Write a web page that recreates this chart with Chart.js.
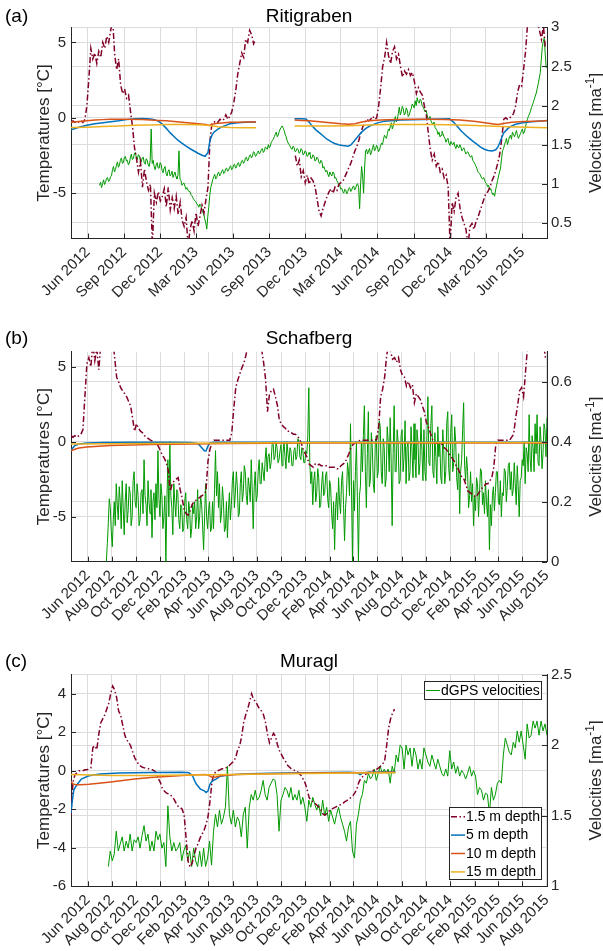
<!DOCTYPE html>
<html>
<head>
<meta charset="utf-8">
<script src="https://cdn.jsdelivr.net/npm/chart.js@4.4.1/dist/chart.umd.min.js"></script>
<style>
html,body{margin:0;padding:0;background:#fff;}
body{position:relative;width:603px;height:951px;overflow:hidden;}
canvas{position:absolute;left:0;display:block;}
</style>
</head>
<body>
<canvas id="ca" width="603" height="320" style="top:0px"></canvas>
<canvas id="cb" width="603" height="320" style="top:320px"></canvas>
<canvas id="cc" width="603" height="311" style="top:640px"></canvas>
<script>
// ---------- tick labels / axis ranges ----------
const START = '2012-04-20', END = '2015-08-02';
const A_X_TICKS = ['2012-06-01','2012-09-01','2012-12-01','2013-03-01','2013-06-01','2013-09-01','2013-12-01','2014-03-01','2014-06-01','2014-09-01','2014-12-01','2015-03-01','2015-06-01'];
const BC_X_TICKS = ['2012-06-01','2012-08-01','2012-10-01','2012-12-01','2013-02-01','2013-04-01','2013-06-01','2013-08-01','2013-10-01','2013-12-01','2014-02-01','2014-04-01','2014-06-01','2014-08-01','2014-10-01','2014-12-01','2015-02-01','2015-04-01','2015-06-01','2015-08-01'];
const A_LEFT_TICKS = [-5,0,5], A_RIGHT_TICKS = [0.5,1,1.5,2,2.5,3];
const B_LEFT_TICKS = [-5,0,5], B_RIGHT_TICKS = [0,0.2,0.4,0.6];
const C_LEFT_TICKS = [-6,-4,-2,0,2,4], C_RIGHT_TICKS = [1,1.5,2,2.5];
const A_LEFT_RANGE = [-8,6], A_RIGHT_RANGE = [0.3,3];
const B_LEFT_RANGE = [-8,6], B_RIGHT_RANGE = [0,0.7];
const C_LEFT_RANGE = [-6,5], C_RIGHT_RANGE = [1,2.5];
const SERIES_LABELS = ['1.5 m depth','5 m depth','10 m depth','15 m depth','dGPS velocities'];

// ---------- (a) Ritigraben : days after START ----------
// 1.5 m depth, every 5 days from day 0 (null = no data)
const A_T1 = [-0.3,-0.2,-0.3,-0.2,-0.3,-0.2,-0.3,-0.1,0.8,2.6,
4.6,3.9,4.3,3.6,4.4,4.0,5.0,4.6,5.4,5.0,
5.8,6.5,4.2,3.2,3.9,2.2,1.6,1.9,1.3,1.5,
0.4,-0.6,-2.0,-2.7,-3.6,-2.9,-4.6,-3.4,-4.2,-4.8,
-4.4,-8.5,-5.0,-5.6,-4.9,-5.5,-5.2,-4.7,-5.9,-4.6,
-6.1,-5.3,-6.0,-5.2,-6.4,-5.6,-6.8,-7.2,-6.6,-8.5,
-7.4,-6.8,-7.5,-6.3,-7.2,-6.5,-5.8,-6.3,-5.4,-4.6,
-1.5,-0.4,-0.3,-0.2,-0.3,-0.1,-0.2,-0.1,0.2,-0.1,
0.1,0.4,1.0,1.8,2.9,3.6,4.3,4.0,5.2,5.0,
5.8,5.5,4.9,5.2,
null,null,null,null,null,null,null,null,null,null,null,null,null,null,null,null,null,null,null,
-2.5,-3.2,-2.8,-3.9,-3.5,-4.3,-3.8,-4.4,-4.0,-4.2,
-4.6,-5.4,-6.2,-6.5,-6.0,-5.6,-5.2,-4.9,-4.7,-5.0,
-4.6,-4.8,-4.4,-4.3,-4.2,-3.9,-3.6,-3.3,-3.0,-2.6,
-2.2,-1.9,-1.5,-1.0,-0.6,-0.3,-0.1,-0.2,-0.1,0.1,
-0.1,0.0,0.8,2.0,3.4,4.0,5.0,4.1,3.6,4.4,
4.7,3.9,4.2,3.4,2.7,3.1,2.9,3.2,2.8,3.0,
2.4,1.6,2.0,1.7,1.5,0.8,0.2,-1.0,-2.1,-2.8,
-2.4,-3.2,-2.9,-3.6,-3.4,-4.0,-3.8,-4.6,-8.5,-5.6,
-6.2,-5.3,-5.0,-6.0,-6.6,-7.0,-7.4,-8.5,-7.2,-7.0,
-7.4,-6.9,-6.6,-6.2,-5.8,-5.4,-5.0,-4.9,-4.6,-4.2,
-3.9,-3.5,-3.0,-2.4,-1.4,-0.1,0.0,-0.1,0.0,0.1,
0.3,0.8,1.7,2.2,2.1,3.2,4.4,6.2,6.8,7.0,
6.6,6.9,6.3,5.8,5.2,6.1,4.6];
const A_T5_DAYS = [0,20,40,60,80,100,120,140,160,180,200,210,220,230,240,250,260,270,280,290,300,310,320,330,338,345,350,355,360,370,380,390,400,420,440,466,515,563,580,592,600,606,616,626,636,645,655,664,674,684,698,705,713,722,732,742,752,770,790,830,887,954,964,974,983,993,1002,1012,1022,1031,1041,1051,1061,1070,1075,1080,1085,1090,1100,1109,1120,1138,1160,1177,1199];
const A_T5 = [-0.8,-0.62,-0.5,-0.4,-0.32,-0.26,-0.2,-0.12,-0.07,-0.05,-0.08,-0.12,-0.22,-0.42,-0.7,-1.0,-1.25,-1.5,-1.7,-1.88,-2.05,-2.2,-2.35,-2.48,-2.55,-2.3,-1.5,-1.15,-0.95,-0.75,-0.6,-0.5,-0.4,-0.33,-0.3,-0.27,null,-0.07,-0.06,-0.08,-0.3,-0.5,-0.78,-1.0,-1.22,-1.42,-1.58,-1.7,-1.78,-1.83,-1.88,-1.8,-1.55,-1.25,-0.95,-0.72,-0.55,-0.35,-0.22,-0.15,-0.11,-0.07,-0.3,-0.6,-0.88,-1.12,-1.33,-1.55,-1.75,-1.93,-2.08,-2.16,-2.2,-2.12,-1.95,-1.65,-1.3,-1.0,-0.72,-0.55,-0.43,-0.33,-0.26,-0.22,-0.18];
const A_T10_DAYS = [0,20,40,60,80,100,140,180,200,220,240,260,280,300,320,340,348,355,365,380,400,420,440,466,515,563,580,600,620,640,660,680,700,715,730,750,780,820,860,900,940,980,1020,1060,1075,1090,1110,1140,1170,1199];
const A_T10 = [-0.3,-0.25,-0.2,-0.15,-0.12,-0.1,-0.1,-0.12,-0.15,-0.18,-0.2,-0.25,-0.3,-0.35,-0.4,-0.45,-0.5,-0.42,-0.38,-0.35,-0.3,-0.3,-0.28,-0.27,null,-0.15,-0.17,-0.2,-0.25,-0.3,-0.35,-0.4,-0.42,-0.4,-0.3,-0.2,-0.15,-0.12,-0.1,-0.1,-0.12,-0.15,-0.25,-0.4,-0.45,-0.38,-0.3,-0.25,-0.22,-0.2];
const A_T15_DAYS = [0,40,80,120,160,200,240,280,320,345,370,400,440,466,515,563,600,650,700,750,800,850,900,950,1000,1050,1100,1150,1199];
const A_T15 = [-0.65,-0.62,-0.58,-0.55,-0.5,-0.47,-0.45,-0.45,-0.46,-0.5,-0.6,-0.65,-0.66,-0.66,null,-0.55,-0.55,-0.55,-0.52,-0.48,-0.45,-0.44,-0.44,-0.46,-0.5,-0.55,-0.6,-0.63,-0.66];
// dGPS velocities, every 2.5 days from day 72
const A_GPS = [0.98,1.02,0.95,1.0,1.05,0.99,1.02,1.07,1.08,1.03,1.04,1.09,1.10,1.18,1.22,1.15,1.18,1.24,1.28,1.21,
1.24,1.3,1.33,1.26,1.27,1.34,1.35,1.29,1.30,1.24,1.26,1.33,1.38,1.31,1.32,1.38,1.40,1.34,1.31,1.37,
1.36,1.3,1.28,1.33,1.34,1.27,1.25,1.32,1.30,1.24,1.22,1.3,1.70,1.26,1.30,1.22,1.18,1.24,1.27,1.2,
1.20,1.27,1.25,1.17,1.14,1.2,1.22,1.13,1.10,1.16,1.18,1.1,1.12,1.16,1.08,1.12,1.15,1.09,1.06,1.11,
1.42,1.06,1.04,0.98,1.00,1.01,0.97,0.93,0.95,0.92,0.90,0.9,0.86,0.85,0.82,0.8,0.78,0.77,0.74,0.73,
0.70,0.74,0.72,0.67,0.64,0.6,0.55,0.5,0.42,0.58,0.70,0.85,0.95,1.0,1.05,1.09,1.12,1.06,1.08,1.13,
1.15,1.1,1.12,1.16,1.18,1.13,1.14,1.19,1.20,1.16,1.17,1.21,1.23,1.18,1.19,1.24,1.25,1.2,1.21,1.26,
1.27,1.22,1.24,1.29,1.30,1.26,1.28,1.33,1.34,1.29,1.31,1.36,1.37,1.33,1.35,1.41,1.40,1.35,1.36,1.4,
1.42,1.38,1.40,1.44,1.45,1.4,1.42,1.47,1.46,1.44,1.50,1.46,1.48,1.53,1.55,1.57,1.60,1.63,1.66,1.6,
1.62,1.67,1.70,1.72,1.74,1.71,1.68,1.63,1.60,1.55,1.52,1.5,1.48,1.45,1.44,1.48,1.46,1.41,1.42,1.45,
1.44,1.39,1.40,1.45,1.43,1.37,1.38,1.42,1.41,1.35,1.36,1.4,1.38,1.32,1.33,1.37,1.35,1.29,1.30,1.34,
1.32,1.27,1.26,1.3,1.28,1.2,1.22,1.18,1.15,1.17,1.12,1.09,1.15,1.12,1.10,1.15,1.14,1.07,1.08,1.04,
1.02,0.97,0.98,0.93,0.94,0.9,0.88,0.93,0.92,0.87,0.90,0.94,0.95,0.9,0.92,0.96,0.97,0.92,0.94,0.99,
1.00,0.95,0.68,1.0,1.22,1.1,0.88,1.2,1.42,1.44,1.38,1.42,1.45,1.37,1.40,1.46,1.50,1.42,1.44,1.49,
1.47,1.41,1.43,1.48,1.52,1.5,1.56,1.62,1.60,1.58,1.64,1.7,1.68,1.74,1.78,1.7,1.74,1.8,1.86,1.79,
1.82,1.9,1.98,1.88,1.92,1.99,1.96,1.88,1.90,1.97,1.94,1.86,1.88,1.93,1.96,2.02,2.00,1.97,2.06,2.0,
2.10,2.05,2.03,2.08,2.06,2.0,1.98,1.95,1.92,1.94,1.88,1.82,1.84,1.86,1.80,1.77,1.76,1.79,1.72,1.7,
1.68,1.63,1.66,1.6,1.62,1.67,1.64,1.6,1.58,1.53,1.56,1.58,1.52,1.49,1.54,1.51,1.50,1.53,1.48,1.45,
1.50,1.47,1.46,1.5,1.47,1.42,1.44,1.46,1.42,1.38,1.40,1.41,1.38,1.35,1.34,1.36,1.30,1.28,1.26,1.23,
1.20,1.16,1.14,1.13,1.10,1.07,1.06,1.08,1.04,1.01,1.00,0.96,0.98,0.92,0.94,0.9,0.86,0.88,0.84,0.92,
0.98,1.04,1.10,1.15,1.20,1.32,1.42,1.45,1.50,1.54,1.58,1.5,1.55,1.6,1.62,1.57,1.66,1.63,1.60,1.64,
1.68,1.62,1.58,1.61,1.64,1.67,1.70,1.64,1.66,1.72,1.78,1.82,1.86,1.89,1.92,1.97,2.00,2.04,2.08,2.12,
2.16,2.22,2.28,2.35,2.42,2.58,2.74,2.82,2.86,2.66,2.48];

// ---------- (b) Schafberg ----------
const B_T1 = [0.4,0.3,0.4,0.3,0.4,0.5,0.8,3.0,5.2,5.6,
5.0,6.5,5.4,6.2,4.8,6.5,7.0,7.5,7.6,7.4,
7.2,6.8,5.6,4.3,4.0,3.6,3.4,3.2,3.0,2.7,
2.4,1.6,0.7,1.2,0.9,0.7,0.6,0.4,0.3,0.2,
0.1,0.05,0.0,-0.1,-0.3,-0.6,-0.9,-1.1,-1.4,-1.9,
-3.3,-2.8,-2.6,-2.5,-2.4,-3.2,-3.8,-4.5,-4.8,-4.9,
-4.6,-4.2,-4.0,-3.9,-3.8,-3.7,-3.6,-3.5,-3.3,-1.3,
-0.5,-0.1,0.1,0.1,0.1,0.1,0.1,0.1,0.1,0.1,
0.1,0.6,2.2,3.6,4.1,4.5,4.9,5.2,5.7,6.3,
7.0,7.5,7.2,7.6,6.9,6.5,6.2,5.3,4.2,2.0,
3.2,3.4,3.5,3.0,2.4,1.4,1.2,1.0,0.9,0.7,
0.7,0.6,0.5,0.5,0.4,0.2,-0.1,-0.5,-0.8,-1.05,
-1.5,-1.6,-1.7,-1.5,-1.6,-1.5,-1.6,-1.6,-1.6,-1.6,
-1.7,-1.7,-1.7,-1.7,-1.8,-1.8,-1.6,-1.5,-1.4,-1.1,
-0.8,-0.4,-0.2,-0.1,0.0,0.05,0.1,0.1,0.1,0.1,
0.1,0.1,0.1,0.1,0.15,1.0,3.0,3.5,4.3,5.7,
6.5,6.0,5.5,5.6,5.3,5.6,4.8,4.4,4.3,3.7,
4.0,3.6,3.8,2.6,3.2,3.0,2.8,2.4,2.0,1.3,
1.0,0.6,0.2,-0.1,-0.1,-0.1,-0.1,-0.2,-0.4,-0.5,
-0.7,-0.9,-1.1,-1.3,-1.6,-1.8,-2.1,-2.4,-2.5,-2.9,
-3.3,-3.4,-3.5,-3.6,-3.7,-3.5,-3.3,-3.1,-3.0,-2.8,
-2.8,-2.6,-2.4,-1.7,-0.2,0.1,0.1,0.1,0.1,0.1,
0.1,0.1,0.3,0.5,1.6,2.4,3.4,3.6,3.0,4.7,
6.3,7.2,7.5,7.8,7.6,7.4,7.3,7.0,6.6,5.6];
const B_T5_DAYS = [0,5,10,20,40,80,150,250,300,316,321,326,331,336,340,345,350,360,500,800,1199];
const B_T5 = [-0.6,-0.4,-0.25,-0.15,-0.08,-0.05,-0.04,-0.04,-0.06,-0.1,-0.15,-0.3,-0.45,-0.6,-0.62,-0.3,-0.08,-0.04,-0.03,-0.03,-0.03];
const B_T10_DAYS = [0,10,20,40,70,100,150,200,300,400,500,600,800,1000,1199];
const B_T10 = [-0.6,-0.5,-0.42,-0.35,-0.3,-0.26,-0.22,-0.19,-0.15,-0.12,-0.1,-0.09,-0.08,-0.08,-0.08];
const B_T15_DAYS = [0,30,100,200,300,400,600,800,1000,1199];
const B_T15 = [-0.15,-0.15,-0.13,-0.12,-0.1,-0.08,-0.06,-0.05,-0.05,-0.05];
// dGPS velocities, every 2.5 days from day 89
const B_GPS = [0.0,0.06,0.13,0.21,0.18,0.1,0.05,0.14,0.2,0.12,0.26,0.19,0.14,0.25,0.2,0.11,0.27,0.18,0.09,0.2,
0.26,0.13,0.17,0.25,0.23,0.12,0.15,0.27,0.30,0.2,0.18,0.26,0.22,0.12,0.14,0.23,0.24,0.16,0.34,0.22,
0.19,0.12,0.27,0.2,0.16,0.24,0.08,0.2,0.23,0.14,0.26,0.18,0.37,0.21,0.15,0.26,0.22,0.11,0.15,0.22,
0.0,0.2,0.34,0.15,0.40,0.22,0.18,0.09,0.26,0.2,0.15,0.24,0.23,0.14,0.11,0.19,0.18,0.1,0.11,0.2,
0.23,0.14,0.11,0.2,0.17,0.08,0.11,0.19,0.16,0.2,0.11,0.15,0.24,0.11,0.15,0.22,0.19,0.12,0.04,0.15,
0.26,0.15,0.11,0.17,0.20,0.1,0.11,0.2,0.11,0.24,0.37,0.22,0.30,0.18,0.26,0.13,0.16,0.25,0.20,0.1,
0.11,0.2,0.08,0.17,0.23,0.14,0.19,0.27,0.30,0.18,0.23,0.3,0.25,0.15,0.16,0.26,0.30,0.2,0.23,0.32,
0.30,0.22,0.19,0.28,0.25,0.2,0.34,0.24,0.11,0.25,0.30,0.2,0.22,0.3,0.34,0.26,0.26,0.33,0.30,0.27,
0.34,0.38,0.30,0.35,0.36,0.31,0.33,0.39,0.40,0.34,0.35,0.4,0.38,0.33,0.34,0.37,0.39,0.32,0.36,0.4,
0.35,0.31,0.40,0.36,0.33,0.38,0.37,0.32,0.32,0.37,0.38,0.34,0.35,0.41,0.40,0.35,0.34,0.38,0.37,0.33,
0.33,0.37,0.36,0.42,0.58,0.33,0.26,0.3,0.19,0.27,0.30,0.2,0.23,0.31,0.28,0.18,0.19,0.26,0.30,0.22,
0.23,0.29,0.30,0.21,0.18,0.27,0.25,0.16,0.11,0.2,0.04,0.18,0.23,0.14,0.28,0.2,0.16,0.27,0.30,0.19,
0.07,0.18,0.23,0.33,0.30,0.22,0.46,0.25,0.0,0.27,0.17,0.3,0.40,0.2,0.0,0.22,0.25,0.4,0.30,0.42,
0.52,0.3,0.18,0.36,0.50,0.25,0.27,0.43,0.38,0.26,0.23,0.4,0.42,0.28,0.30,0.47,0.45,0.3,0.26,0.41,
0.38,0.25,0.28,0.45,0.40,0.3,0.48,0.33,0.12,0.36,0.52,0.3,0.30,0.44,0.40,0.26,0.27,0.42,0.44,0.3,
0.35,0.47,0.26,0.38,0.40,0.27,0.30,0.45,0.37,0.28,0.46,0.34,0.28,0.44,0.40,0.29,0.33,0.48,0.37,0.27,
0.44,0.3,0.27,0.42,0.55,0.33,0.32,0.46,0.52,0.3,0.28,0.43,0.35,0.26,0.45,0.35,0.40,0.28,0.26,0.44,
0.37,0.26,0.30,0.46,0.50,0.31,0.27,0.43,0.49,0.3,0.33,0.45,0.40,0.28,0.24,0.36,0.16,0.3,0.34,0.44,
0.53,0.32,0.27,0.35,0.30,0.18,0.22,0.3,0.20,0.26,0.12,0.22,0.17,0.28,0.26,0.15,0.23,0.31,0.30,0.19,
0.23,0.16,0.27,0.2,0.15,0.24,0.04,0.19,0.12,0.22,0.25,0.17,0.23,0.3,0.30,0.2,0.19,0.27,0.15,0.23,
0.22,0.31,0.30,0.2,0.25,0.32,0.33,0.24,0.30,0.22,0.24,0.33,0.26,0.19,0.32,0.25,0.15,0.27,0.28,0.34,
0.32,0.4,0.26,0.38,0.36,0.3,0.49,0.34,0.30,0.42,0.38,0.3,0.46,0.36,0.49,0.33,0.32,0.45,0.40,0.31,
0.36,0.46,0.44,0.35,0.48];

// ---------- (c) Muragl ----------
const C_T1 = [-2.3,-0.6,-0.2,-0.1,0.0,0.0,0.0,0.05,0.05,0.1,
0.15,1.2,1.3,1.1,1.9,2.5,2.7,2.9,3.2,3.5,
4.0,4.4,4.2,3.8,3.1,2.9,2.4,1.9,1.6,1.5,
1.3,1.0,0.7,0.5,0.35,0.25,0.18,0.15,0.12,0.1,
0.08,0.05,0.0,-0.1,-0.4,-0.6,-0.9,-1.05,-1.15,-1.2,
-1.25,-1.35,-1.5,-1.7,-1.85,-1.9,-2.0,-2.3,-3.5,-4.7,
-5.0,-4.8,-4.4,-4.0,-3.8,-3.5,-3.3,-3.1,-2.8,-2.4,
-1.6,-0.6,-0.17,-0.05,0.0,0.05,0.1,0.1,0.15,0.2,
0.3,0.4,0.5,0.7,1.1,1.3,1.8,2.5,2.9,3.2,
3.6,4.0,3.7,3.6,3.4,3.2,3.1,2.9,2.5,1.9,
1.45,1.7,1.95,1.8,1.35,1.05,0.85,0.65,0.5,0.3,
0.2,0.1,0.05,0.0,-0.05,-0.15,-0.25,-0.45,-0.65,-1.0,
-1.4,-1.55,-1.6,-1.7,-1.8,-1.9,-2.05,-2.25,-2.3,-2.2,
-2.1,-2.0,-1.95,-1.9,-1.85,-1.8,-1.75,-1.7,-1.6,-1.55,
-1.45,-1.4,-1.3,-1.15,-0.95,-0.6,-0.4,-0.3,-0.2,-0.15,
-0.1,-0.05,0.0,0.05,0.08,0.15,0.25,0.35,0.5,1.3,
2.2,2.7,3.0,3.2];
const C_T5_DAYS = [0,3,7,12,16,26,45,74,120,200,280,297,302,307,311,316,326,336,340,345,350,355,365,374,403,450,500,600,700,720,728,735,750,817];
const C_T5 = [-2.2,-1.6,-1.0,-0.82,-0.7,-0.43,-0.26,-0.17,-0.12,-0.09,-0.08,-0.1,-0.18,-0.3,-0.5,-0.7,-0.95,-1.04,-1.13,-1.05,-0.7,-0.55,-0.43,-0.3,-0.2,-0.16,-0.13,-0.1,-0.08,-0.1,-0.2,-0.12,-0.08,-0.07];
const C_T10_DAYS = [0,5,12,25,45,70,100,130,160,200,250,300,340,348,356,365,380,420,500,600,700,817];
const C_T10 = [-0.55,-0.68,-0.72,-0.72,-0.7,-0.65,-0.58,-0.5,-0.43,-0.35,-0.28,-0.22,-0.19,-0.25,-0.35,-0.32,-0.25,-0.19,-0.15,-0.12,-0.1,-0.08];
const C_T15_DAYS = [0,50,100,200,300,400,500,600,700,817];
const C_T15 = [-0.2,-0.22,-0.25,-0.25,-0.22,-0.2,-0.17,-0.14,-0.12,-0.1];
// dGPS velocities, every 5 days from day 94
const C_GPS = [1.14,1.25,1.18,1.23,1.39,1.25,1.30,1.35,1.25,1.32,
1.27,1.37,1.25,1.33,1.31,1.35,1.27,1.36,1.43,1.32,
1.37,1.25,1.32,1.25,1.39,1.33,1.37,1.27,1.31,1.14,
1.57,1.35,1.25,1.31,1.25,1.27,1.31,1.18,1.25,1.29,
1.18,1.25,1.14,1.27,1.18,1.14,1.25,1.14,1.27,1.14,
1.20,1.32,1.15,1.39,1.51,1.42,1.54,1.44,1.49,1.56,
1.85,1.51,1.44,1.54,1.42,1.49,1.46,1.35,1.51,1.56,
1.27,1.56,1.65,1.61,1.68,1.61,1.63,1.68,1.75,1.65,
1.61,1.70,1.73,1.76,1.75,1.65,1.39,1.61,1.65,1.70,
1.68,1.63,1.70,1.61,1.65,1.61,1.68,1.58,1.63,1.56,
1.46,1.61,1.56,1.63,1.58,1.54,1.58,1.50,1.61,1.50,
1.56,1.46,1.54,1.49,1.44,1.51,1.56,1.49,1.44,1.39,
1.32,1.42,1.46,1.25,1.20,1.44,1.51,1.61,1.65,1.75,
1.73,1.80,1.76,1.78,1.83,1.75,1.80,1.85,1.80,1.83,
1.80,1.83,1.73,1.85,1.80,1.93,1.88,2.00,1.98,1.83,
2.00,1.93,1.98,1.85,1.98,1.93,1.83,1.90,1.83,1.98,
1.93,1.88,1.85,1.93,1.88,1.83,1.90,1.85,1.80,1.78,
1.83,1.78,1.96,1.83,1.88,1.80,1.85,1.78,1.82,1.80,
1.76,1.80,1.85,1.78,1.82,1.78,1.65,1.70,1.68,1.61,
1.66,1.65,1.51,1.70,1.61,1.65,1.73,1.75,1.73,1.93,
2.05,2.00,1.95,1.93,2.02,1.98,2.10,2.02,2.10,2.00,
1.90,2.15,2.05,2.07,2.17,2.12,2.17,2.07,2.17,2.10,
2.15,2.07];

// ---------- helpers ----------
const FONT = '"Liberation Sans", Arial, Helvetica, sans-serif';
const TXT = '#262626', AXIS = '#262626', GRID = '#dcdcdc';
const COLORS = ['#800026','#0072BD','#D95319','#EDB120','#009900'];
const MONTHS = ['Jan','Feb','Mar','Apr','May','Jun','Jul','Aug','Sep','Oct','Nov','Dec'];
function dayNum(s){const p=s.split('-').map(Number);return Date.UTC(p[0],p[1]-1,p[2])/864e5;}
const D0 = dayNum(START), DMAX = dayNum(END);
function stepSeries(first, step, vals){return vals.map((v,i)=>({x:D0+first+i*step,y:v}));}
function knotSeries(days, vals){return days.map((d,i)=>({x:D0+d,y:vals[i]}));}
function tickLabel(s){const p=s.split('-').map(Number);return MONTHS[p[1]-1]+' '+p[0];}

function buildSets(t1,t5,t10,t15,gps){
  const base = {pointRadius:0, fill:false, spanGaps:false, tension:0};
  return [
    Object.assign({label:SERIES_LABELS[3], data:t15, yAxisID:'yL', borderColor:COLORS[3], borderWidth:1.5, legendBox:1, legendRank:3}, base),
    Object.assign({label:SERIES_LABELS[2], data:t10, yAxisID:'yL', borderColor:COLORS[2], borderWidth:1.5, legendBox:1, legendRank:2}, base),
    Object.assign({label:SERIES_LABELS[1], data:t5, yAxisID:'yL', borderColor:COLORS[1], borderWidth:1.5, legendBox:1, legendRank:1}, base),
    Object.assign({label:SERIES_LABELS[0], data:t1, yAxisID:'yL', borderColor:COLORS[0], borderWidth:1.5, borderDash:[6,2.5,1.5,2.5], legendBox:1, legendRank:0}, base),
    Object.assign({label:SERIES_LABELS[4], data:gps, yAxisID:'yR', borderColor:COLORS[4], borderWidth:1, legendBox:0, legendRank:0}, base)
  ];
}

const decor = {
  id:'decor',
  afterDraw(chart, args, o){
    const ctx = chart.ctx, a = chart.chartArea;
    ctx.save();
    ctx.strokeStyle = AXIS; ctx.lineWidth = 1;
    ctx.beginPath();
    const sx = chart.scales.x, yl = chart.scales.yL, yr = chart.scales.yR;
    sx.ticks.forEach(t=>{const p=Math.round(sx.getPixelForValue(t.value))+0.5; ctx.moveTo(p,a.bottom); ctx.lineTo(p,a.bottom-5);});
    yl.ticks.forEach(t=>{const p=Math.round(yl.getPixelForValue(t.value))+0.5; ctx.moveTo(a.left,p); ctx.lineTo(a.left+5,p);});
    yr.ticks.forEach(t=>{const p=Math.round(yr.getPixelForValue(t.value))+0.5; ctx.moveTo(a.right-5,p); ctx.lineTo(a.right,p);});
    ctx.stroke();
    ctx.fillStyle = '#000'; ctx.textBaseline = 'alphabetic';
    ctx.font = '19px ' + FONT;
    ctx.textAlign = 'left'; ctx.fillText(o.tag, 5, o.titleY);
    ctx.textAlign = 'center'; ctx.fillText(o.title, (a.left+a.right)/2, o.titleY);
    const cy = (a.top+a.bottom)/2;
    ctx.fillStyle = TXT;
    ctx.save(); ctx.translate(49, cy); ctx.rotate(-Math.PI/2);
    ctx.font = '17px ' + FONT; ctx.textAlign = 'center'; ctx.fillText('Temperatures [°C]', 0, 0);
    ctx.restore();
    ctx.save(); ctx.translate(601, cy); ctx.rotate(-Math.PI/2);
    ctx.textAlign = 'left';
    const big = '17px ' + FONT, small = '12px ' + FONT;
    ctx.font = big; const w1 = ctx.measureText('Velocities [ma').width, w3 = ctx.measureText(']').width;
    ctx.font = small; const w2 = ctx.measureText('-1').width;
    const x0 = -(w1+w2+w3)/2;
    ctx.font = big; ctx.fillText('Velocities [ma', x0, 0);
    ctx.font = small; ctx.fillText('-1', x0+w1, -7);
    ctx.font = big; ctx.fillText(']', x0+w1+w2, 0);
    ctx.restore();
    (o.legends||[]).forEach((L, bi)=>{
      const items = chart.data.datasets.filter(d=>d.legendBox===bi).sort((p,q)=>p.legendRank-q.legendRank);
      ctx.fillStyle = '#fff'; ctx.fillRect(L.x0, L.y0, L.x1-L.x0, L.y1-L.y0);
      ctx.strokeStyle = AXIS; ctx.lineWidth = 1; ctx.setLineDash([]);
      ctx.strokeRect(L.x0+0.5, L.y0+0.5, L.x1-L.x0-1, L.y1-L.y0-1);
      items.forEach((d, i)=>{
        const yy = L.y0 + L.first + i*L.step;
        ctx.strokeStyle = d.borderColor; ctx.lineWidth = d.borderWidth;
        ctx.setLineDash(d.borderDash || []);
        ctx.beginPath(); ctx.moveTo(L.x0+2, yy); ctx.lineTo(L.x0+16, yy); ctx.stroke();
        ctx.setLineDash([]);
        ctx.fillStyle = '#000'; ctx.font = '14px ' + FONT; ctx.textAlign = 'left'; ctx.textBaseline = 'middle';
        ctx.fillText(d.label, L.x0+17, yy+0.5);
      });
    });
    ctx.restore();
  }
};

function makeChart(id, cfg){
  const tickOpts = {font:{family:FONT,size:15}, color:TXT};
  return new Chart(document.getElementById(id), {
    type:'line',
    data:{datasets:cfg.datasets},
    options:{
      responsive:false, animation:false, devicePixelRatio:1,
      layout:{padding:{top:cfg.top,left:0,right:0,bottom:0}},
      plugins:{legend:{display:false}, tooltip:{enabled:false}, title:{display:false},
        decor:{tag:cfg.tag, title:cfg.title, titleY:cfg.titleY, legends:cfg.legends}},
      scales:{
        x:{type:'linear', min:D0, max:DMAX,
          afterBuildTicks:s=>{s.ticks = cfg.xTicks.map(t=>({value:dayNum(t)}));},
          afterFit:s=>{s.height = cfg.xH;},
          ticks:Object.assign({autoSkip:false, minRotation:45, maxRotation:45, padding:5,
            callback:v=>{const i=cfg.xTicks.findIndex(t=>Math.abs(dayNum(t)-v)<0.5); return i>=0?tickLabel(cfg.xTicks[i]):'';}}, tickOpts),
          grid:{color:GRID, drawTicks:false}, border:{color:AXIS, width:1}},
        yL:{type:'linear', position:'left', min:cfg.left[0], max:cfg.left[1],
          afterBuildTicks:s=>{s.ticks = cfg.leftTicks.map(v=>({value:v}));},
          afterFit:s=>{s.width = 71;},
          ticks:Object.assign({padding:5, callback:v=>String(v)}, tickOpts),
          grid:{color:GRID, drawTicks:false}, border:{color:AXIS, width:1}},
        yR:{type:'linear', position:'right', min:cfg.right[0], max:cfg.right[1],
          afterBuildTicks:s=>{s.ticks = cfg.rightTicks.map(v=>({value:v}));},
          afterFit:s=>{s.width = 56;},
          ticks:Object.assign({padding:4, callback:v=>String(v)}, tickOpts),
          grid:{color:GRID, drawTicks:false, drawOnChartArea:true}, border:{color:AXIS, width:1}}
      }
    },
    plugins:[decor]
  });
}

makeChart('ca', {
  tag:'(a)', title:'Ritigraben', titleY:21.5, top:27.3, xH:81.5,
  xTicks:A_X_TICKS, left:A_LEFT_RANGE, right:A_RIGHT_RANGE, leftTicks:A_LEFT_TICKS, rightTicks:A_RIGHT_TICKS,
  datasets:buildSets(stepSeries(0,5,A_T1), knotSeries(A_T5_DAYS,A_T5), knotSeries(A_T10_DAYS,A_T10), knotSeries(A_T15_DAYS,A_T15), stepSeries(72,2.5,A_GPS))
});
makeChart('cb', {
  tag:'(b)', title:'Schafberg', titleY:24, top:31.7, xH:78.3,
  xTicks:BC_X_TICKS, left:B_LEFT_RANGE, right:B_RIGHT_RANGE, leftTicks:B_LEFT_TICKS, rightTicks:B_RIGHT_TICKS,
  datasets:buildSets(stepSeries(0,5,B_T1), knotSeries(B_T5_DAYS,B_T5), knotSeries(B_T10_DAYS,B_T10), knotSeries(B_T15_DAYS,B_T15), stepSeries(89,2.5,B_GPS))
});
makeChart('cc', {
  tag:'(c)', title:'Muragl', titleY:27, top:34.5, xH:64.7,
  xTicks:BC_X_TICKS, left:C_LEFT_RANGE, right:C_RIGHT_RANGE, leftTicks:C_LEFT_TICKS, rightTicks:C_RIGHT_TICKS,
  legends:[{x0:424,y0:41,x1:542,y1:60,first:9.5,step:18.4},{x0:449,y0:167,x1:542,y1:240,first:9.7,step:18.4}],
  datasets:buildSets(stepSeries(0,5,C_T1), knotSeries(C_T5_DAYS,C_T5), knotSeries(C_T10_DAYS,C_T10), knotSeries(C_T15_DAYS,C_T15), stepSeries(94,5,C_GPS))
});
</script>
</body>
</html>
